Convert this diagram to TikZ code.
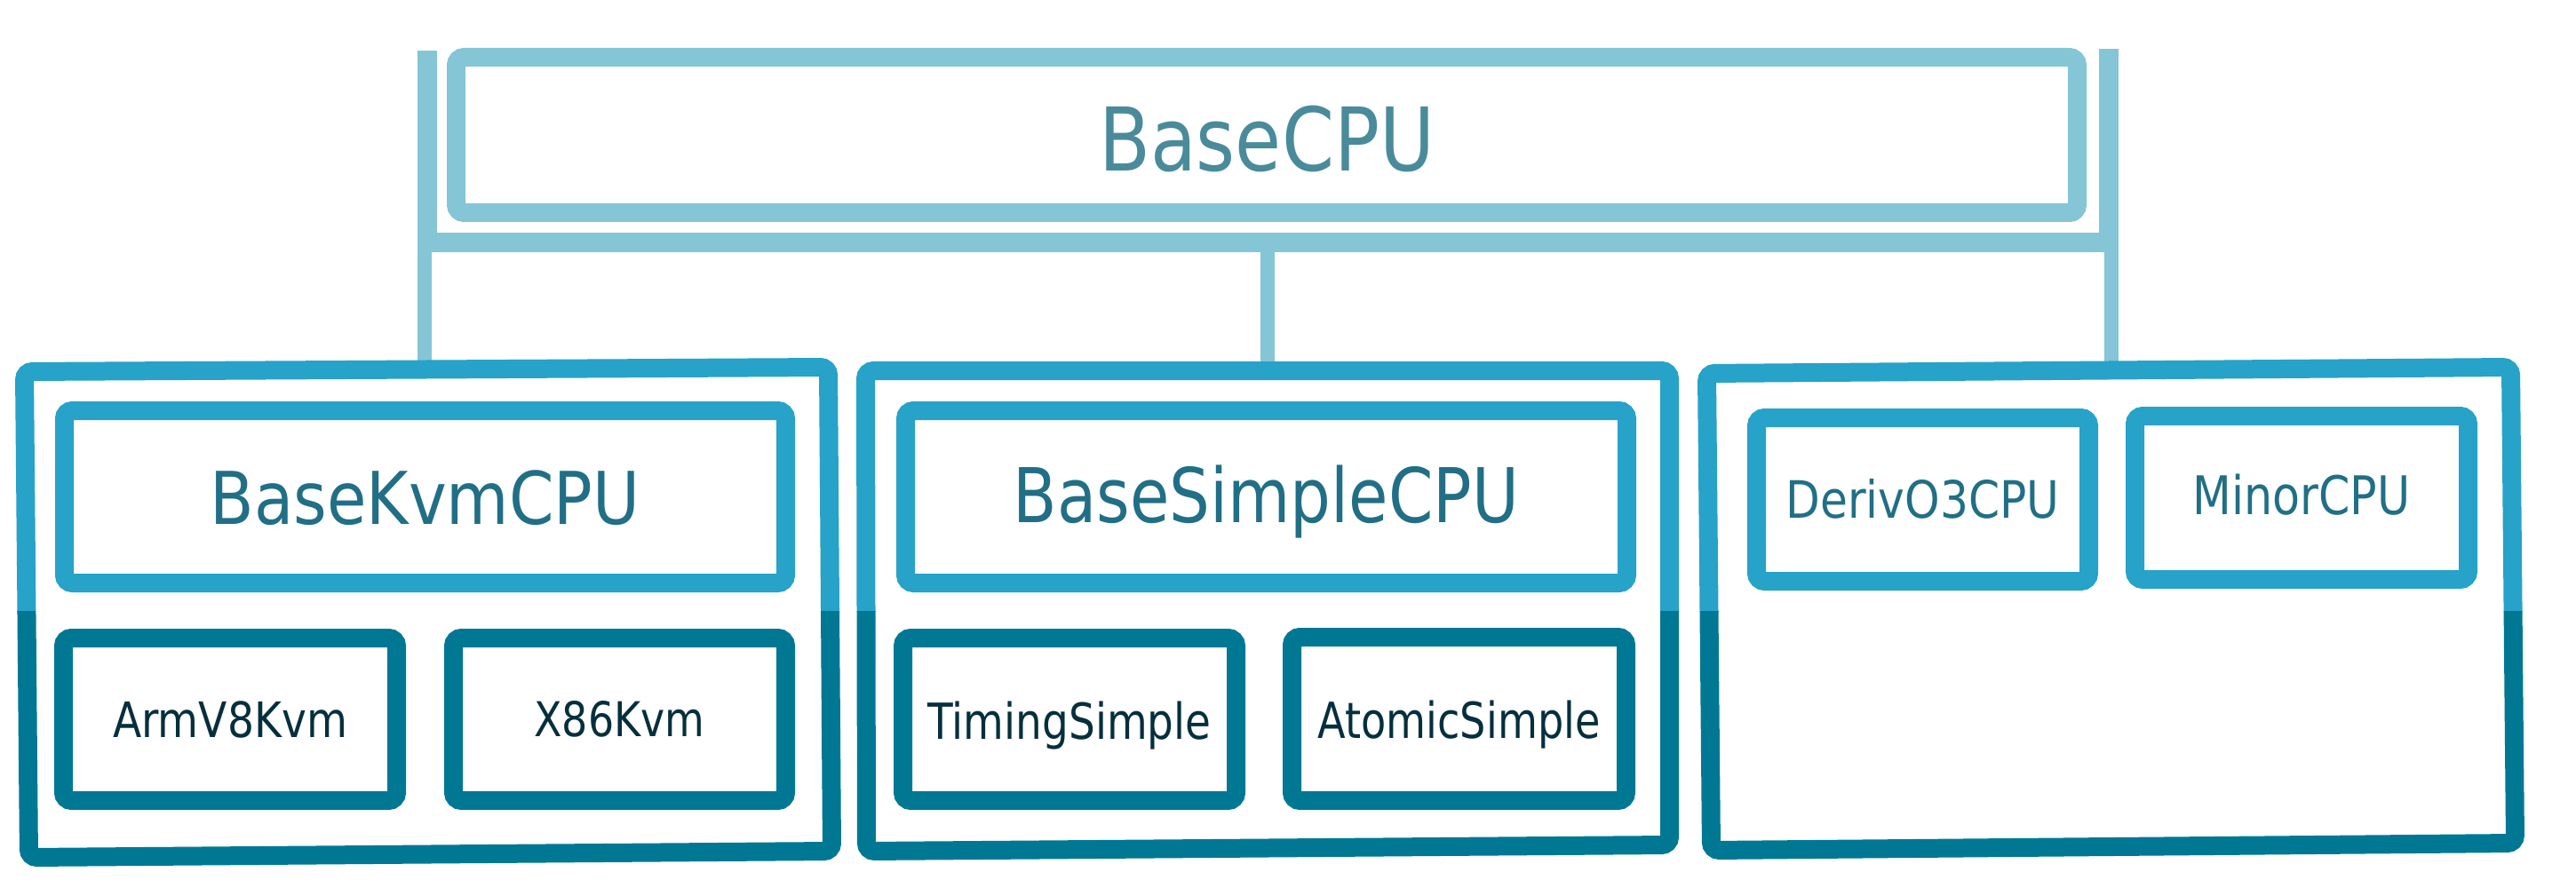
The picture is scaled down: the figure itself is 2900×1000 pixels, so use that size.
\documentclass[tikz,border=0pt]{standalone}
\usepackage{fontspec}
\setmainfont{DejaVu Sans}
\usepackage{graphicx}
\definecolor{cTop}{HTML}{84C5D6}
\definecolor{cTopText}{HTML}{4A8B9B}
\definecolor{cLight}{HTML}{27A2C9}
\definecolor{cDark}{HTML}{007894}
\definecolor{cMidText}{HTML}{216F86}
\definecolor{cLowText}{HTML}{062F3D}
\newcommand\lbl[3]{{\fontsize{#1pt}{#1pt}\selectfont\resizebox{#2pt}{\height}{#3}}}
\begin{document}
\begin{tikzpicture}[x=1pt,y=-1pt,
  box/.style={draw, line width=21pt, rounded corners=9pt, inner sep=0pt, text depth=0pt},
  topbox/.style={box, draw=cTop, text=cTopText},
  midbox/.style={box, draw=cLight, text=cMidText},
  lowbox/.style={box, draw=cDark, text=cLowText},
  grp/.style={line width=21pt, rounded corners=9pt},
  conn/.style={draw=cTop, line width=22pt},
  drop/.style={draw=cTop, line width=16pt}]
\useasboundingbox (0,0) rectangle (2900,1000);

% connectors
\coordinate (lTop) at (481,57);
\coordinate (lJ) at (481,273);
\coordinate (rTop) at (2374,55);
\coordinate (rJ) at (2374,273);
\coordinate (barL) at (470,273);
\coordinate (barR) at (2385,273);
\coordinate (dL) at (478,284);
\coordinate (dM) at (1427,284);
\coordinate (dR) at (2377,284);
\coordinate (g1t) at (478,416);
\coordinate (g2t) at (1427,416);
\coordinate (g3t) at (2377,413);
\draw[conn] (lTop) -- (lJ);
\draw[conn] (rTop) -- (rJ);
\draw[conn] (barL) -- (barR);
\draw[drop] (dL) -- (g1t);
\draw[drop] (dM) -- (g2t);
\draw[drop] (dR) -- (g3t);

% top class
\node[topbox, minimum width=1825pt, minimum height=175pt, text height=82pt] (base) at (1426,152)
  {\lbl{99}{378}{BaseCPU}};

% group frames (two-tone)
\begin{scope}
  \clip (0,0) rectangle (2900,688);
  \draw[grp, draw=cLight] (27.5,418.5) -- (932.5,413.5) -- (936.5,958.5) -- (32.5,965.5) -- cycle;
  \draw[grp, draw=cLight] (974.5,417.5) -- (1879.5,417.5) -- (1879.5,951.5) -- (975.5,958.5) -- cycle;
  \draw[grp, draw=cLight] (1921.5,420.5) -- (2826.5,413.5) -- (2831.5,949.5) -- (1926.5,957.5) -- cycle;
\end{scope}
\begin{scope}
  \clip (0,688) rectangle (2900,1000);
  \draw[grp, draw=cDark] (27.5,418.5) -- (932.5,413.5) -- (936.5,958.5) -- (32.5,965.5) -- cycle;
  \draw[grp, draw=cDark] (974.5,417.5) -- (1879.5,417.5) -- (1879.5,951.5) -- (975.5,958.5) -- cycle;
  \draw[grp, draw=cDark] (1921.5,420.5) -- (2826.5,413.5) -- (2831.5,949.5) -- (1926.5,957.5) -- cycle;
\end{scope}

% middle classes
\node[midbox, minimum width=812pt, minimum height=194pt, text height=61pt] (kvm) at (478.5,559.5)
  {\lbl{82}{484}{BaseKvmCPU}};
\node[midbox, minimum width=812pt, minimum height=194pt, text height=57pt] (simple) at (1425.5,559.5)
  {\lbl{85}{569}{BaseSimpleCPU}};
\node[midbox, minimum width=374pt, minimum height=184pt, text height=41pt] (o3) at (2164.5,562.5)
  {\lbl{58}{308}{DerivO3CPU}};
\node[midbox, minimum width=375pt, minimum height=184pt, text height=37pt] (minor) at (2591,560.5)
  {\lbl{60}{245}{MinorCPU}};

% leaf classes
\node[lowbox, minimum width=375pt, minimum height=183pt, text height=41pt] (arm) at (259,810)
  {\lbl{55}{264}{ArmV8Kvm}};
\node[lowbox, minimum width=374pt, minimum height=183pt, text height=38pt] (x86) at (697.5,810)
  {\lbl{54}{192}{X86Kvm}};
\node[lowbox, minimum width=375pt, minimum height=183pt, text height=44pt] (timing) at (1204,810)
  {\lbl{56}{319}{TimingSimple}};
\node[lowbox, minimum width=376pt, minimum height=184pt, text height=43pt] (atomic) at (1642.5,809.5)
  {\lbl{56}{318}{AtomicSimple}};
\end{tikzpicture}
\end{document}
